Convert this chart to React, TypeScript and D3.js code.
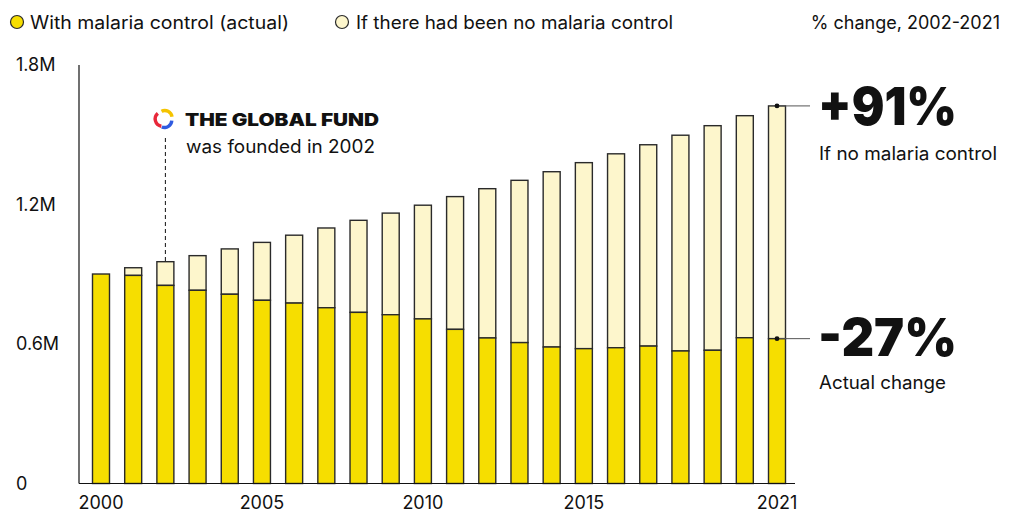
import React from "react";
import * as d3 from "d3";

// Malaria deaths per year, 2000–2021
const years = [2000, 2001, 2002, 2003, 2004, 2005, 2006, 2007, 2008, 2009, 2010, 2011, 2012, 2013, 2014, 2015, 2016, 2017, 2018, 2019, 2020, 2021];
// With malaria control (actual), millions
const actual = [0.901, 0.895, 0.852, 0.831, 0.814, 0.788, 0.776, 0.756, 0.736, 0.726, 0.708, 0.663, 0.626, 0.606, 0.587, 0.58, 0.584, 0.591, 0.57, 0.573, 0.627, 0.623];
// If there had been no malaria control, millions
const noControl = [0.901, 0.928, 0.954, 0.98, 1.009, 1.037, 1.068, 1.099, 1.132, 1.163, 1.197, 1.234, 1.268, 1.304, 1.341, 1.38, 1.418, 1.457, 1.498, 1.539, 1.582, 1.624];

const yTicks = [0, 0.6, 1.2, 1.8];
const yTickLabels = ["0", "0.6M", "1.2M", "1.8M"];
const xTickYears = [2000, 2005, 2010, 2015, 2021];

const legendItems = ["With malaria control (actual)", "If there had been no malaria control"];

const YELLOW = "#F6DE00";
const LIGHT = "#FDF6CC";
const STROKE = "#2a2a2a";
const INK = "#111";
const FONT = "Inter, 'Noto Sans', sans-serif";

export default function App() {
  const W = 1013;
  const H = 512;
  const axisX = 79;

  const x = d3
    .scaleBand<number>()
    .domain(years)
    .range([92.5, 785.5])
    .paddingInner(0.472)
    .paddingOuter(0);
  const y = d3.scaleLinear().domain([0, 1.8]).range([483.5, 65]);

  const cx = (yr: number) => (x(yr) as number) + x.bandwidth() / 2;

  const lastIdx = years.length - 1;
  const baseIdx = years.indexOf(2002);
  const pctNo = Math.round((noControl[lastIdx] / actual[baseIdx] - 1) * 100);
  const pctActual = Math.round((actual[lastIdx] / actual[baseIdx] - 1) * 100);

  const gfX = cx(2002);

  // Global Fund swirl mark
  const logoC = { x: 164, y: 119 };
  const arc = d3.arc();
  const logoArcs = [
    { color: "#E8283A", start: -Math.PI * 0.95, end: -Math.PI * 0.22, r: 9, dx: -1.5, dy: 0 },
    { color: "#F5C400", start: -Math.PI * 0.15, end: Math.PI * 0.45, r: 9, dx: 0.8, dy: -1.2 },
    { color: "#2F5BE0", start: Math.PI * 0.52, end: Math.PI * 1.12, r: 9, dx: 0.5, dy: 1.2 },
  ];

  return (
    <svg
      width={W}
      height={H}
      viewBox={`0 0 ${W} ${H}`}
      style={{ position: "absolute", left: 0, top: 0, background: "#fff" }}
      fontFamily={FONT}
    >
      {/* Legend */}
      <g>
        <circle cx={17} cy={22} r={6.5} fill={YELLOW} stroke={STROKE} strokeWidth={1.2} />
        <text x={30} y={28.5} fontSize={18} fill={INK} textLength={259} lengthAdjust="spacingAndGlyphs">{legendItems[0]}</text>
        <circle cx={342} cy={22} r={6.5} fill={LIGHT} stroke={STROKE} strokeWidth={1.2} />
        <text x={356} y={28.5} fontSize={18} fill={INK} textLength={317} lengthAdjust="spacingAndGlyphs">{legendItems[1]}</text>
        <text x={1000} y={28.5} fontSize={18} fill={INK} textAnchor="end">% change, 2002-2021</text>
      </g>

      {/* Y axis */}
      <line x1={axisX} x2={axisX} y1={y(1.8)} y2={y(0)} stroke={INK} strokeWidth={1.2} />
      {yTicks.map((t, i) => (
        <text key={t} x={16} y={y(t)} dy="0.35em" fontSize={18} fill={INK}>
          {yTickLabels[i]}
        </text>
      ))}

      {/* Bars */}
      {years.map((yr, i) => (
        <g key={yr}>
          {noControl[i] > actual[i] && (
            <rect
              x={x(yr)}
              y={y(noControl[i])}
              width={x.bandwidth()}
              height={y(actual[i]) - y(noControl[i])}
              fill={LIGHT}
              stroke={STROKE}
              strokeWidth={1.4}
            />
          )}
          <rect
            x={x(yr)}
            y={y(actual[i])}
            width={x.bandwidth()}
            height={y(0) - y(actual[i])}
            fill={YELLOW}
            stroke={STROKE}
            strokeWidth={1.4}
          />
        </g>
      ))}

      {/* X axis */}
      <line x1={axisX} x2={795} y1={y(0)} y2={y(0)} stroke={INK} strokeWidth={1.2} />
      {xTickYears.map((yr) => (
        <text key={yr} x={cx(yr)} y={509} fontSize={18} fill={INK} textAnchor="middle">
          {yr}
        </text>
      ))}

      {/* Global Fund annotation */}
      <line
        x1={gfX}
        x2={gfX}
        y1={138}
        y2={y(noControl[baseIdx])}
        stroke={INK}
        strokeWidth={1}
        strokeDasharray="4 3"
      />
      <g transform={`translate(${logoC.x},${logoC.y})`}>
        {logoArcs.map((a, i) => (
          <path
            key={i}
            transform={`translate(${a.dx},${a.dy})`}
            d={arc({ innerRadius: a.r - 3.4, outerRadius: a.r, startAngle: a.start, endAngle: a.end }) as string}
            fill={a.color}
          />
        ))}
      </g>
      <text x={185} y={126} fontSize={17.5} fontWeight={900} fill={INK} textLength={194} lengthAdjust="spacingAndGlyphs">
        THE GLOBAL FUND
      </text>
      <text x={186} y={153} fontSize={18} fill={INK} textLength={189} lengthAdjust="spacingAndGlyphs">was founded in 2002</text>

      {/* Change callouts */}
      {[
        { v: noControl[lastIdx], label: `+${pctNo}%`, sub: "If no malaria control", by: 125, sy: 160, sw: 178 },
        { v: actual[lastIdx], label: `${pctActual}%`, sub: "Actual change", by: 356, sy: 389, sw: 127 },
      ].map((c) => (
        <g key={c.sub}>
          <line x1={cx(2021)} x2={810} y1={y(c.v)} y2={y(c.v)} stroke="#555" strokeWidth={1} />
          <circle cx={cx(2021)} cy={y(c.v)} r={2.4} fill={INK} />
          <text
            x={818}
            y={c.by}
            fontSize={52}
            fontWeight={900}
            fill={INK}
            textLength={139}
            lengthAdjust="spacingAndGlyphs"
          >
            {c.label}
          </text>
          <text x={819} y={c.sy} fontSize={18} fill={INK} textLength={c.sw} lengthAdjust="spacingAndGlyphs">{c.sub}</text>
        </g>
      ))}
    </svg>
  );
}
